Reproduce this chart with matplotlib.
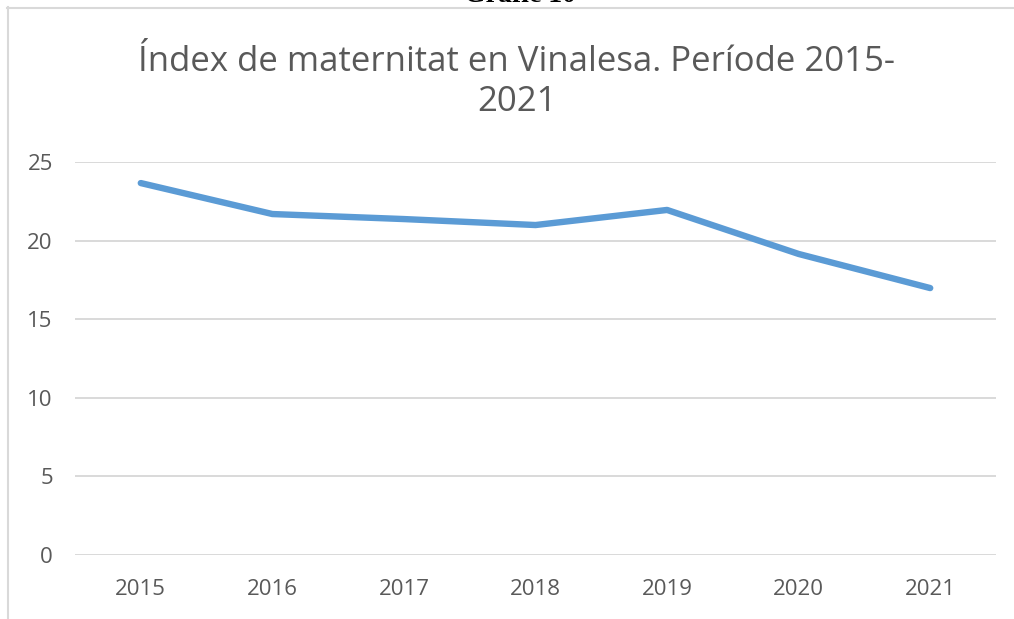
import matplotlib
matplotlib.use("Agg")
import matplotlib.pyplot as plt
from matplotlib.lines import Line2D

years = ["2015", "2016", "2017", "2018", "2019", "2020", "2021"]
values = [23.66, 21.69, 21.37, 20.99, 21.95, 19.15, 16.98]
yticks = [0, 5, 10, 15, 20, 25]
title = "Índex de maternitat en Vinalesa. Període 2015-\n2021"

W, H = 1014, 619
fig = plt.figure(figsize=(W / 100, H / 100), dpi=100)
fig.patch.set_facecolor("white")

ax = fig.add_axes([75 / W, 1 - 555 / H, (996 - 75) / W, (555 - 162) / H])
x = list(range(len(years)))
ax.plot(x, values, color="#5b9bd5", linewidth=4.6, solid_capstyle="round",
        solid_joinstyle="round", zorder=3)
ax.set_xlim(-0.5, len(years) - 0.5)
ax.set_ylim(0, 25)
ax.set_yticks(yticks)
ax.set_xticks(x)
ax.set_xticklabels(years)
for s in ax.spines.values():
    s.set_visible(False)
ax.grid(axis="y", color="#d9d9d9", linewidth=1.4, zorder=0)
ax.tick_params(axis="both", length=0, labelsize=16, labelcolor="#595959",
               labelfontfamily="Open Sans")
ax.tick_params(axis="y", pad=16)
ax.tick_params(axis="x", pad=17)

fig.text(517 / W, 1 - 82 / H, title, ha="center", va="center",
         fontsize=25, color="#595959", family="Open Sans", linespacing=1.2)

# outer chart frame (partially cropped)
fig.add_artist(Line2D([7 / W, 1], [1 - 7.5 / H] * 2, color="#d9d9d9", lw=1.5,
                      transform=fig.transFigure))
fig.add_artist(Line2D([7.5 / W] * 2, [0, 1 - 7 / H], color="#d9d9d9", lw=1.5,
                      transform=fig.transFigure))

# cropped heading above the chart
fig.text(520 / W, 1 - 2.5 / H, "Gràfic 10", ha="center", va="baseline",
         fontsize=20, fontweight="bold", family="Liberation Serif", color="black")

fig.savefig("out.png", dpi=100, facecolor="white")
